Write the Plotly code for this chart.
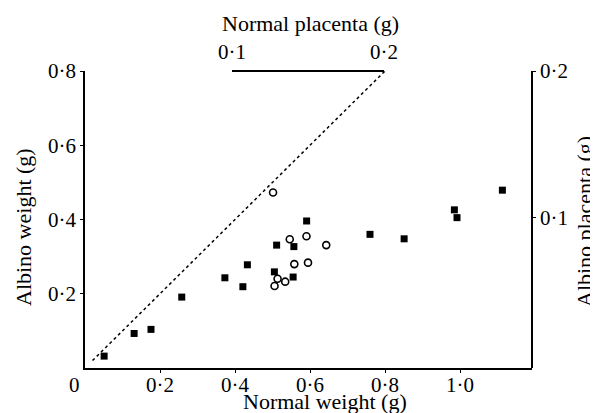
import plotly.graph_objects as go

# Filled squares: body weights (g)
normal_weight = [0.051, 0.131, 0.176, 0.258, 0.373, 0.421, 0.433, 0.505, 0.511,
                 0.555, 0.557, 0.591, 0.760, 0.851, 0.985, 0.992, 1.113]
albino_weight = [0.032, 0.093, 0.104, 0.191, 0.243, 0.219, 0.278, 0.259, 0.331,
                 0.245, 0.327, 0.396, 0.360, 0.348, 0.426, 0.405, 0.479]

# Open circles: placenta weights (g)
normal_placenta = [0.127, 0.138, 0.149, 0.162, 0.141, 0.150, 0.130, 0.135, 0.128]
albino_placenta = [0.117, 0.085, 0.087, 0.081, 0.068, 0.069, 0.058, 0.056, 0.053]

# Line of equality (weight axes)
equality_line = [0.02, 0.8]

weight_x_ticks = [0.2, 0.4, 0.6, 0.8, 1.0]
weight_x_labels = ["0·2", "0·4", "0·6", "0·8", "1·0"]
weight_y_ticks = [0.2, 0.4, 0.6, 0.8]
weight_y_labels = ["0·2", "0·4", "0·6", "0·8"]
placenta_ticks = [0.1, 0.2]
placenta_labels = ["0·1", "0·2"]

# window size and page offset (default body margin)
WIN_W, WIN_H = 598, 413
OFF = 8
W, H = WIN_W - OFF, WIN_H - OFF
# plot area in window pixels
L, R, T, B = 85, 532, 71, 368
FONT = "Liberation Serif"


def px(xp):
    return (xp - L) / (R - L)


def py(yp):
    return (B - yp) / (B - T)


fig = go.Figure()
fig.add_trace(go.Scatter(x=equality_line, y=equality_line, mode="lines",
                         line=dict(color="black", width=1.5, dash="dot"),
                         xaxis="x", yaxis="y", hoverinfo="skip"))
fig.add_trace(go.Scatter(x=normal_weight, y=albino_weight, mode="markers",
                         marker=dict(symbol="square", size=7, color="black"),
                         xaxis="x", yaxis="y"))
fig.add_trace(go.Scatter(x=normal_placenta, y=albino_placenta, mode="markers",
                         marker=dict(symbol="circle-open", size=7, color="black",
                                     line=dict(width=1.6)),
                         xaxis="x2", yaxis="y2", cliponaxis=False))

axis_common = dict(showgrid=False, zeroline=False, showline=True, linecolor="black",
                   linewidth=1.5, ticks="outside", ticklen=3, tickwidth=1.2,
                   tickcolor="black", tickfont=dict(family=FONT, size=21, color="black"),
                   fixedrange=True)

fig.update_layout(
    width=W, height=H,
    margin=dict(l=L - OFF, r=WIN_W - R, t=T - OFF, b=WIN_H - B),
    paper_bgcolor="white", plot_bgcolor="rgba(0,0,0,0)",
    showlegend=False,
    font=dict(family=FONT, size=21, color="black"),
    xaxis=dict(axis_common, range=[0, (R - L) / 375.0], tickvals=weight_x_ticks,
               ticktext=weight_x_labels, anchor="y", domain=[0, 1],
               ticklabelstandoff=-6),
    yaxis=dict(axis_common, range=[0, 0.8], tickvals=weight_y_ticks,
               ticktext=weight_y_labels, anchor="x", domain=[0, 1]),
    xaxis2=dict(axis_common, range=[0.1, 0.2], tickvals=placenta_ticks,
                ticktext=placenta_labels, side="top", anchor="free", position=1.0,
                domain=[px(232), px(384)], ticks="inside", ticklabelstandoff=3),
    yaxis2=dict(axis_common, range=[0.2 - (B - T) / 1463.0, 0.2], tickvals=placenta_ticks,
                ticktext=placenta_labels, side="right", anchor="free", position=1.0,
                domain=[0, 1]),
)

ann_font = dict(family=FONT, size=22, color="black")
annotations = [
    dict(text="Normal placenta (g)", x=px(310), y=py(23)),
    dict(text="Normal weight (g)", x=px(325), y=py(401)),
    dict(text="Albino weight (g)", x=px(23), y=py(227), textangle=-90),
    dict(text="Albino placenta (g)", x=px(584), y=py(222), textangle=-90),
    dict(text="0", x=px(74), y=py(385), font=dict(family=FONT, size=21, color="black")),
]
for a in annotations:
    a.setdefault("font", ann_font)
    fig.add_annotation(xref="paper", yref="paper", showarrow=False,
                       xanchor="center", yanchor="middle", **a)

fig.write_html("out.html")
